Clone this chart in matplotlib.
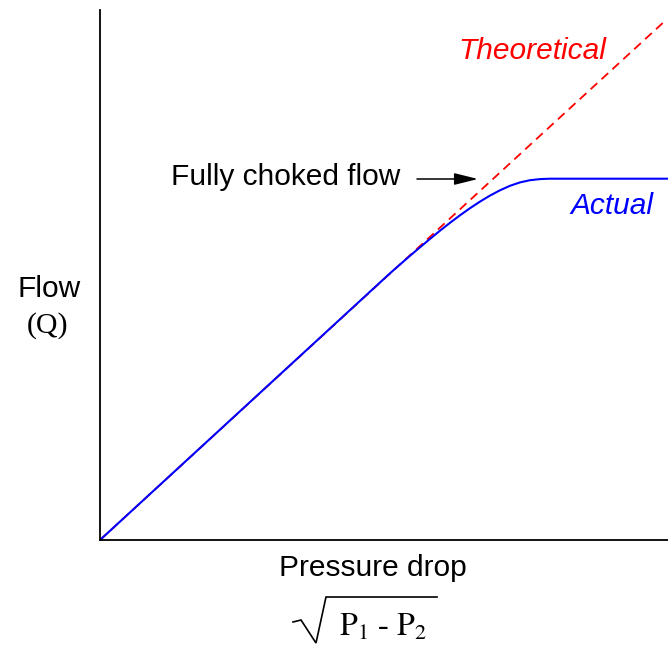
import matplotlib.pyplot as plt
from matplotlib.lines import Line2D

plt.rcParams['font.family'] = ['Liberation Sans', 'DejaVu Sans']
plt.rcParams['mathtext.fontset'] = 'stix'

# values (x: pressure drop, y: flow), arbitrary units
theory_x = [0, 566]
theory_y = [0, 520]

actual_x = [0, 290, 300, 310, 320, 330, 340, 350, 360, 370, 380, 390,
            400, 410, 420, 430, 440, 450, 460, 568]
actual_y = [0, 266.7, 275.5, 284.2, 292.7, 301.1, 309.3, 317.2, 324.7,
            331.8, 338.4, 344.4, 349.7, 354.2, 357.6, 359.8, 360.9, 361.3,
            361.3, 361.3]

W, H = 668, 646
fig = plt.figure(figsize=(W / 100, H / 100), dpi=100)
ax = fig.add_axes([100 / W, 106 / H, 568 / W, 530 / H])

ax.plot(theory_x, theory_y, color='red', lw=1.3, ls=(0, (5, 3.2)))
ax.plot(actual_x, actual_y, color='blue', lw=1.5)

ax.set_xlim(0, 568)
ax.set_ylim(0, 530)
ax.set_xticks([])
ax.set_yticks([])
for s in ['top', 'right']:
    ax.spines[s].set_visible(False)
for s in ['left', 'bottom']:
    ax.spines[s].set_linewidth(1.3)


def fx(px):
    return px / W


def fy(py):
    return 1 - py / H


fs = 21.5
fig.text(fx(458), fy(59), 'Theoretical', color='red', style='italic',
         fontsize=fs, ha='left', va='baseline')
fig.text(fx(570), fy(214), 'Actual', color='blue', style='italic',
         fontsize=fs, ha='left', va='baseline')
fig.text(fx(171), fy(185), 'Fully choked flow', fontsize=fs,
         ha='left', va='baseline')
ax.annotate('', xy=(378, 361), xytext=(317, 361),
            arrowprops=dict(arrowstyle='-|>,head_length=1.45,head_width=0.36',
                            color='black', lw=1.1, mutation_scale=10,
                            shrinkA=0, shrinkB=0))

fig.text(fx(17), fy(297), 'Flow', fontsize=fs, ha='left', va='baseline')
fig.text(fx(47.5), fy(333), '(Q)', fontsize=fs, ha='center', va='baseline',
         family='Liberation Serif')
fig.text(fx(279), fy(576), 'Pressure drop', fontsize=fs,
         ha='left', va='baseline')

# square root of P1 - P2
fig.text(fx(339), fy(636), r'$\mathrm{P}_1$ - $\mathrm{P}_2$', fontsize=23,
         ha='left', va='baseline', family='Liberation Serif')
rad_x = [293, 301, 316, 326, 437]
rad_y = [622, 620, 643, 597, 597]
fig.add_artist(Line2D([fx(v) for v in rad_x], [fy(v) for v in rad_y],
                      color='black', lw=1.2, solid_joinstyle='miter'))

plt.savefig('out.png', dpi=100)
